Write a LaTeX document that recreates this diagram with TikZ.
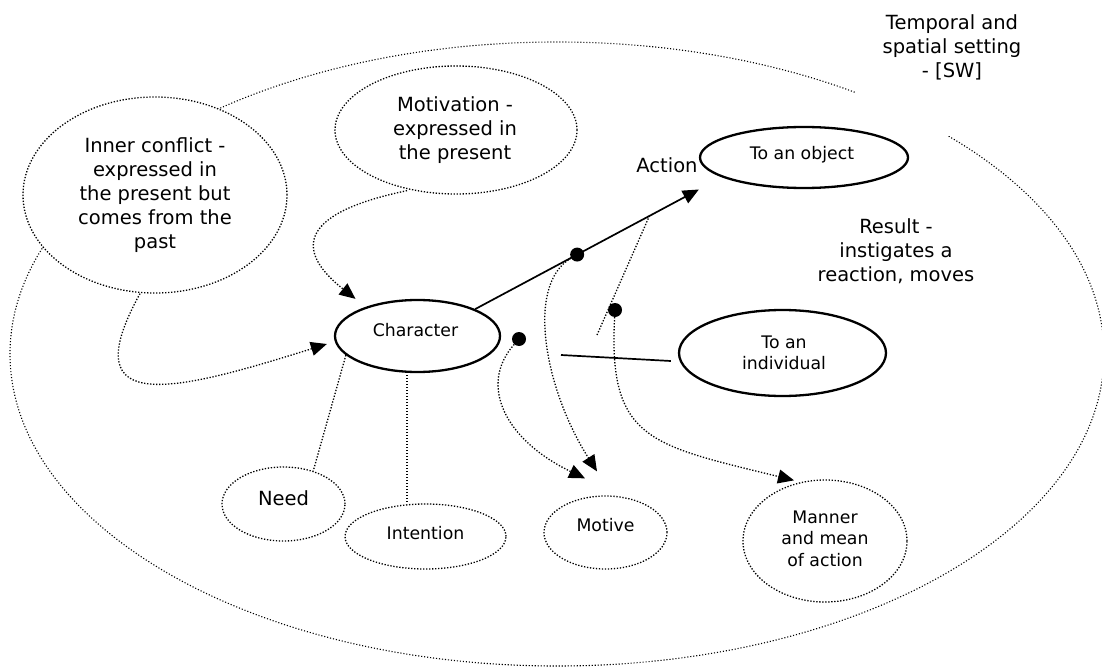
\documentclass[tikz,border=0pt]{standalone}
\usepackage{fontspec}
\setmainfont{DejaVu Sans}
\usetikzlibrary{shapes.geometric,arrows.meta,calc}
\begin{document}
\begin{tikzpicture}[x=1pt,y=-1pt,
  dotline/.style={line width=1.3pt, dash pattern=on 1.3pt off 1.7pt},
  framedot/.style={line width=1.1pt, dash pattern=on 1.1pt off 1.9pt},
  softoval/.style={ellipse, draw, dotline, fill=white, inner sep=0pt},
  hardoval/.style={ellipse, draw, line width=2.3pt, fill=white, inner sep=0pt},
  bigtxt/.style={font=\fontsize{19.5}{24}\selectfont, align=center, inner sep=0pt},
  smalltxt/.style={font=\fontsize{17.3}{21.5}\selectfont, align=center, inner sep=0pt},
  blob/.style={circle, fill, inner sep=0pt, minimum size=14pt},
  tip/.style={-{Triangle[length=16pt,width=14pt]}},
  link/.style={line width=1.7pt},
]
\useasboundingbox (0,0) rectangle (1102,668);

% setting: the large frame around everything, open under its caption
\node[ellipse, draw, framedot, inner sep=0pt, minimum width=1094pt, minimum height=624pt] (frame) at (557,354) {};
\fill[white] (856,0) rectangle (1060,136);
\node[bigtxt] (setting) at (952,47) {Temporal and\\spatial setting\\- [SW]};

% ovals
\node[softoval, minimum width=264pt, minimum height=196pt,
  label={[bigtxt]center:Inner conflict -\\expressed in\\the present but\\comes from the\\past}] (ic) at (155,195) {};
\node[softoval, minimum width=242pt, minimum height=128pt,
  label={[bigtxt, xshift=-1pt]center:Motivation -\\expressed in\\the present}] (mot) at (456,130) {};
\node[hardoval, minimum width=165pt, minimum height=72pt,
  label={[smalltxt, xshift=-2pt, yshift=6pt]center:Character}] (ch) at (417.5,336) {};
\node[hardoval, minimum width=208pt, minimum height=61pt,
  label={[smalltxt, xshift=-2pt, yshift=2.5pt]center:To an object}] (obj) at (804,157.5) {};
\node[hardoval, minimum width=207pt, minimum height=86pt,
  label={[smalltxt, xshift=1.5pt]center:To an\\individual}] (ind) at (782.5,353) {};
\node[softoval, minimum width=123pt, minimum height=74pt,
  label={[bigtxt, yshift=6pt]center:Need}] (need) at (283.5,504) {};
\node[softoval, minimum width=161pt, minimum height=65pt,
  label={[smalltxt, yshift=3.5pt]center:Intention}] (int) at (425.5,536.5) {};
\node[softoval, minimum width=123pt, minimum height=73pt,
  label={[smalltxt, yshift=7.5pt]center:Motive}] (motive) at (605.5,532.5) {};
\node[softoval, minimum width=164pt, minimum height=122pt,
  label={[smalltxt, yshift=2.5pt]center:Manner\\and mean\\of action}] (man) at (825,541) {};

% free texts
\node[bigtxt] (action) at (667,165) {Action};
\node[bigtxt] (result) at (896,251) {Result -\\instigates a\\reaction, moves};

% influences on the character
\draw[dotline, tip] ($(ic.south)+(-15,0)$) .. controls (70,420) and (180,390) .. ($(ch.west)+(-7,8)$);
\draw[dotline, tip] ($(mot.south)+(-49,-4)$) .. controls (290,215) and (300,255) .. ($(ch.north)+(-62,0)$);

% the action
\draw[link, -{Triangle[length=16pt,width=14pt]}] (ch.25) -- coordinate[pos=0.456] (d1pos) coordinate[pos=0.779] (a2) ($(obj.west)+(0,32)$);
\coordinate (r1) at (597,335);
\draw[dotline] (r1) -- (a2);

\coordinate (s1) at (561,355);
\draw[link] (s1) -- ($(ind.west)+(-7,8)$);

% character traits
\draw[dotline] (ch.195) -- (need.48);
\coordinate (chs) at ($(ch.south)+(-10.5,2)$);
\draw[dotline] (chs) -- (chs |- int.north);

% branch points
\node[blob] (d1) at (d1pos) {};
\node[blob] (d2) at (615,310) {};
\node[blob] (d3) at (519,339) {};

\draw[dotline, tip] (d1) .. controls (525,285) and (545,390) .. ($(motive.north)+(-8.5,-24)$);
\draw[dotline, tip] (d3) .. controls (478,385) and (505,440) .. ($(motive.north)+(-20.5,-17)$);
\draw[dotline, tip] (d2) .. controls (608,440) and (650,445) .. ($(man.north)+(-31,1)$);
\end{tikzpicture}
\end{document}
